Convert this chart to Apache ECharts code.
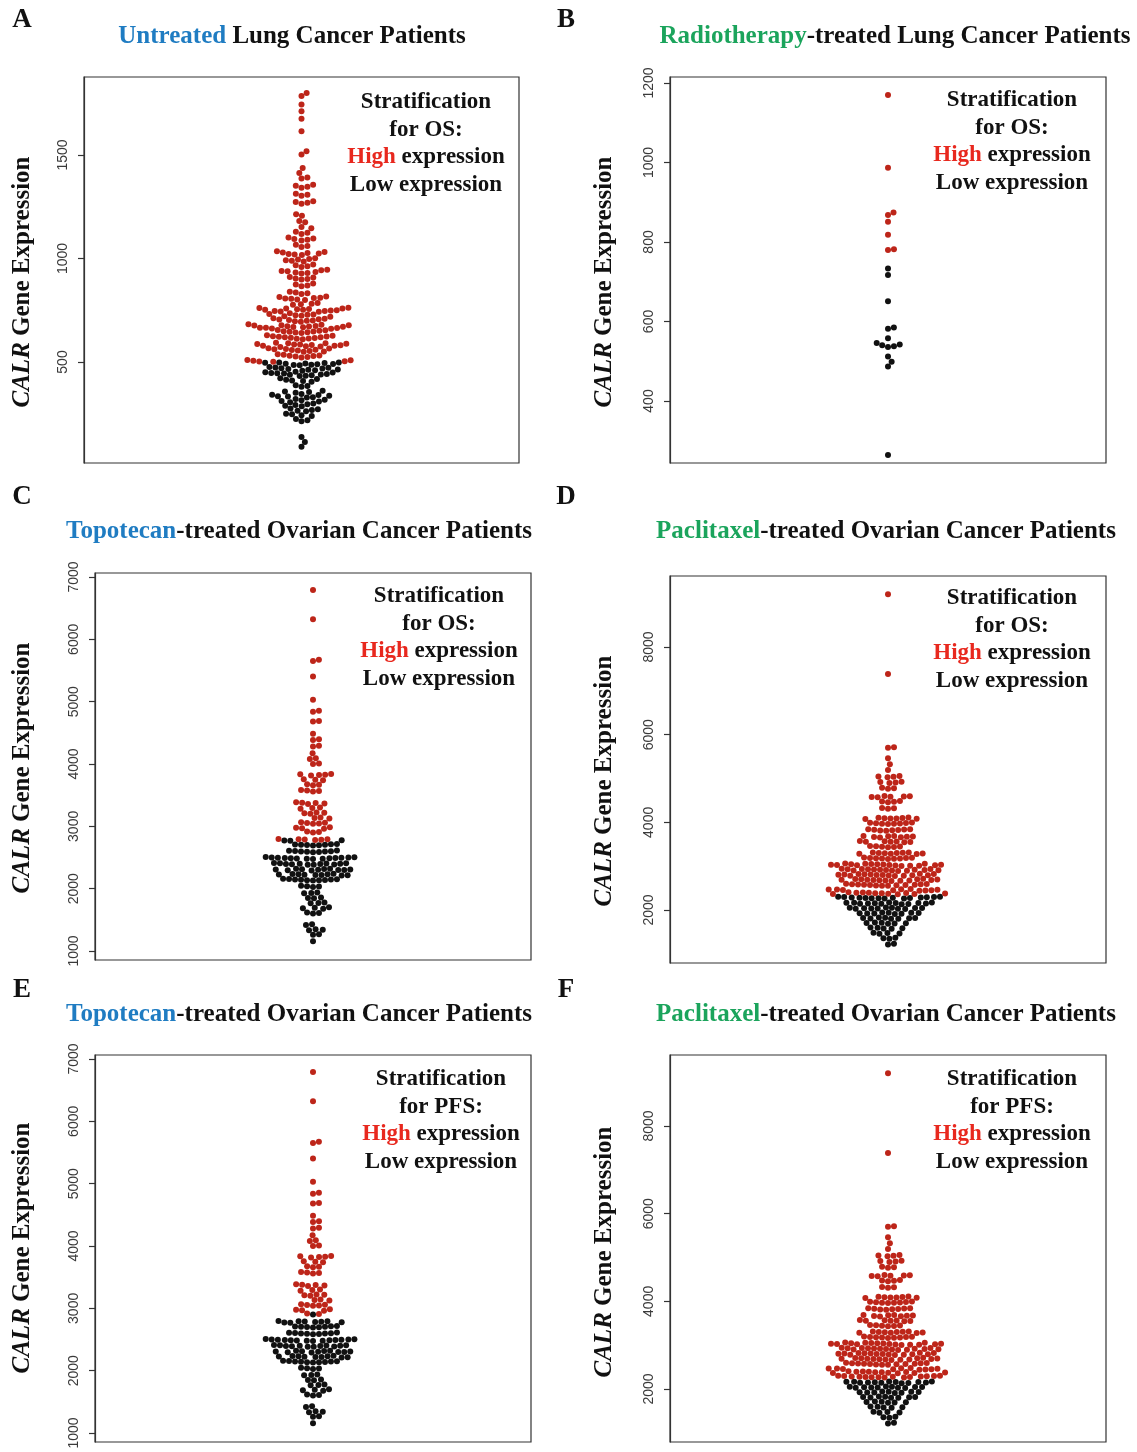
<!DOCTYPE html>
<html>
<head>
<meta charset="utf-8">
<script src="https://cdn.jsdelivr.net/npm/echarts@6/dist/echarts.min.js"></script>
<style>
  html, body { margin: 0; padding: 0; background: #fff; }
  #chart { width: 1137px; height: 1452px; }
</style>
</head>
<body>
<div id="chart"></div>
<script>
// values (CALR expression per patient)
const untreatedValues = [
  90, 114, 138,
  214, 219, 225, 239, 243, 247, 250,
  262, 265, 268, 272, 275, 286, 289, 292, 296, 299,
  306, 309, 312, 315, 318, 321, 328, 330, 333, 335, 337, 340, 342, 345,
  351, 355, 358, 361, 380, 384, 388,
  405, 408, 411, 414, 418, 421,
  432, 434, 436, 438, 440, 442, 444, 446, 447, 449, 451, 453,
  458, 460, 462, 464, 466, 468, 470, 472, 474, 476,
  484, 486, 487, 489, 490, 492, 493, 495, 496, 497, 498,
  501, 503, 504, 506, 508, 510,
  522, 524, 527, 529, 530, 532, 535, 537,
  549, 551, 553, 556, 558, 559, 561, 563, 565, 567,
  573, 575, 576, 578, 579, 581, 582, 584, 585, 587, 588, 590, 591, 593,
  610, 612, 614, 616, 617, 619, 620, 622, 623, 625, 627, 629,
  640, 642, 644, 646, 647, 649, 651, 653, 655,
  661, 662, 664, 665, 666, 668, 669, 670, 672, 673, 674, 676, 677, 678, 680, 682,
  695, 697, 699, 701, 703, 705, 707, 709, 711,
  719, 721, 724, 726, 728, 730, 732, 735,
  743, 744, 746, 747, 749, 750, 752, 753, 755, 756, 758, 759, 761, 762,
  776, 779, 782, 785,
  800, 802, 805, 807, 809, 811, 814, 816,
  828, 832, 836, 840,
  866, 870, 875, 879,
  898, 901, 904, 908, 911,
  928, 930, 933, 935, 938, 940, 943, 946,
  959, 963, 967, 971,
  986, 989, 992, 995, 998, 1001,
  1017, 1019, 1022, 1024, 1027, 1029, 1032, 1035,
  1056, 1061, 1066, 1087, 1091, 1094, 1097, 1101,
  1119, 1124, 1129, 1146, 1152, 1175, 1181, 1207, 1214,
  1265, 1269, 1273, 1277, 1303, 1308, 1313,
  1342, 1347, 1351, 1356, 1386, 1392, 1413, 1437,
  1502, 1518, 1615, 1675, 1711, 1744, 1785, 1800
];
const untreatedCut = 500;
const untreatedTicks = [500, 1000, 1500];

const radioValues = [
  264, 487, 499, 512, 536, 538, 540, 542, 546, 558, 582, 585,
  651, 717, 733, 780, 782, 818, 851, 868, 874, 987, 1170
];
const radioCut = 750;
const radioTicks = [400, 600, 800, 1000, 1200];

const topotecanValues = [
  1156, 1263, 1268, 1335, 1343, 1350, 1418, 1428,
  1603, 1611, 1619, 1680, 1688, 1695, 1703,
  1765, 1771, 1778, 1845, 1851, 1858, 1925, 1931, 1938,
  2028, 2035, 2040, 2046,
  2130, 2134, 2137, 2140, 2143, 2146, 2149, 2152, 2155, 2158,
  2212, 2215, 2218, 2221, 2224, 2227, 2230, 2233, 2236, 2239,
  2292, 2295, 2298, 2301, 2304, 2306, 2309, 2312, 2315, 2318, 2321,
  2382, 2385, 2388, 2391, 2394, 2396, 2398, 2401, 2404, 2407, 2410, 2413,
  2478, 2480, 2482, 2485, 2487, 2489, 2491, 2493, 2495, 2497, 2499, 2502, 2504, 2507,
  2585, 2589, 2592, 2595, 2598, 2601, 2604, 2607, 2611,
  2692, 2696, 2699, 2703, 2706, 2709, 2713, 2716,
  2768, 2771, 2775, 2782, 2785, 2788, 2791, 2794, 2797,
  2900, 2910, 2918, 2962, 2970, 2977, 2984,
  3040, 3047, 3053, 3059, 3066, 3124, 3133, 3142,
  3202, 3210, 3217, 3224, 3284, 3293, 3302,
  3360, 3367, 3373, 3379, 3386,
  3560, 3567, 3575, 3582, 3658, 3667, 3676, 3738, 3747, 3756,
  3815, 3822, 3828, 3834, 3840,
  4000, 4008, 4082, 4093, 4174, 4280, 4291, 4387, 4396, 4484,
  4680, 4691, 4840, 4856, 5029, 5402, 5654, 5671, 6322, 6792
];
const topotecanOsCut = 2780;
const topotecanPfsCut = 2905;
const topotecanTicks = [1000, 2000, 3000, 4000, 5000, 6000, 7000];

const paclitaxelValues = [
  1212, 1228, 1345, 1356, 1367, 1458, 1466, 1474, 1482,
  1572, 1579, 1586, 1593, 1600, 1685, 1691, 1697, 1703, 1709, 1715,
  1798, 1803, 1808, 1812, 1816, 1820, 1825, 1830,
  1910, 1914, 1919, 1923, 1927, 1931, 1935, 1940, 1945,
  2022, 2026, 2030, 2034, 2037, 2040, 2043, 2046, 2050, 2054, 2058,
  2134, 2138, 2141, 2145, 2148, 2151, 2154, 2157, 2160, 2163, 2167, 2170, 2174,
  2260, 2263, 2266, 2270, 2273, 2276, 2279, 2282, 2285, 2288, 2291, 2294, 2298, 2301, 2304,
  2360, 2364, 2368, 2372, 2376, 2380, 2384, 2388, 2392, 2396, 2400, 2404,
  2440, 2445, 2449, 2453, 2457, 2461, 2465, 2469, 2473, 2478,
  2552, 2556, 2560, 2564, 2568, 2572, 2575, 2578, 2582, 2586, 2590, 2594, 2598,
  2664, 2668, 2672, 2675, 2679, 2682, 2686, 2689, 2693, 2696, 2700, 2703, 2707, 2711,
  2776, 2780, 2784, 2788, 2791, 2795, 2798, 2801, 2805, 2808, 2812, 2815, 2819, 2822, 2826,
  2892, 2896, 2900, 2903, 2907, 2910, 2914, 2917, 2921, 2924, 2928, 2931, 2935, 2938, 2942,
  3005, 3009, 3012, 3016, 3019, 3023, 3026, 3029, 3032, 3035, 3039, 3042, 3046, 3049, 3053, 3056, 3060,
  3165, 3169, 3173, 3177, 3181, 3185, 3189, 3193, 3197,
  3278, 3282, 3286, 3290, 3294, 3298, 3302, 3306, 3310, 3314,
  3432, 3438, 3444, 3450, 3456, 3462,
  3545, 3550, 3555, 3560, 3565, 3570, 3575,
  3656, 3661, 3666, 3671, 3676, 3681, 3686, 3691,
  3810, 3815, 3820, 3825, 3830, 3835, 3840, 3845,
  3960, 3965, 3970, 3975, 3980, 3985, 3990, 3995,
  4075, 4080, 4085, 4090, 4095, 4100, 4105, 4110,
  4310, 4320, 4330, 4458, 4467, 4476, 4485,
  4570, 4577, 4583, 4589, 4595, 4601, 4767, 4777, 4787,
  4900, 4909, 4918, 4927, 5030, 5039, 5048, 5057,
  5195, 5325, 5462, 5702, 5712, 7384, 9202
];
const paclitaxelOsCut = 2330;
const paclitaxelPfsCut = 2200;
const paclitaxelTicks = [2000, 4000, 6000, 8000];

const panelLetters = ['A', 'B', 'C', 'D', 'E', 'F'];
const titleDrug = ['Untreated', 'Radiotherapy', 'Topotecan', 'Paclitaxel', 'Topotecan', 'Paclitaxel'];
const titleRest = [' Lung Cancer Patients', '-treated Lung Cancer Patients',
  '-treated Ovarian Cancer Patients', '-treated Ovarian Cancer Patients',
  '-treated Ovarian Cancer Patients', '-treated Ovarian Cancer Patients'];
const endpoints = ['OS', 'OS', 'OS', 'OS', 'PFS', 'PFS'];

// layout
const BLUE = '#1f7cc2', GREEN = '#1ba45c';
const SERIF = '"Liberation Serif", "Times New Roman", serif';
const GAP = 6, DOT = 6;
const panels = [
  { values: untreatedValues, cut: untreatedCut, ticks: untreatedTicks, min: 12, max: 1877,
    box: [84, 77, 435, 386], drugColor: BLUE, title: [292, 37], letter: [22, 20], legend: [426, 102], yName: [23, 282] },
  { values: radioValues, cut: radioCut, ticks: radioTicks, min: 244, max: 1215,
    box: [670, 77, 436, 386], drugColor: GREEN, title: [895, 37], letter: [566, 20], legend: [1012, 100], yName: [605, 282] },
  { values: topotecanValues, cut: topotecanOsCut, ticks: topotecanTicks, min: 856, max: 7064,
    box: [95, 573, 436, 387], drugColor: BLUE, title: [299, 532], letter: [22, 497], legend: [439, 596], yName: [23, 768] },
  { values: paclitaxelValues, cut: paclitaxelOsCut, ticks: paclitaxelTicks, min: 791, max: 9620,
    box: [670, 576, 436, 387], drugColor: GREEN, title: [886, 532], letter: [566, 497], legend: [1012, 598], yName: [605, 781] },
  { values: topotecanValues, cut: topotecanPfsCut, ticks: topotecanTicks, min: 856, max: 7064,
    box: [95, 1055, 436, 387], drugColor: BLUE, title: [299, 1015], letter: [22, 990], legend: [441, 1079], yName: [23, 1248] },
  { values: paclitaxelValues, cut: paclitaxelPfsCut, ticks: paclitaxelTicks, min: 791, max: 9620,
    box: [670, 1055, 436, 387], drugColor: GREEN, title: [886, 1015], letter: [566, 990], legend: [1012, 1079], yName: [605, 1252] }
];

// beeswarm: lowest value first, each point goes to the free spot nearest the centre line
function swarmOffsets(values, pxPerUnit, gap) {
  const order = values.map((v, i) => i).sort((a, b) => values[a] - values[b]);
  const placed = [];
  const xs = new Array(values.length).fill(0);
  order.forEach(i => {
    const y = values[i] * pxPerUnit;
    const near = placed.filter(p => Math.abs(p.y - y) < gap);
    const cands = [0];
    near.forEach(p => {
      const dx = Math.sqrt(gap * gap - (p.y - y) * (p.y - y));
      cands.push(p.x + dx, p.x - dx);
    });
    cands.sort((a, b) => Math.abs(a) - Math.abs(b));
    const x = cands.find(c => near.every(p => (p.x - c) ** 2 + (p.y - y) ** 2 >= gap * gap - 0.01));
    xs[i] = x;
    placed.push({ x, y });
  });
  return xs;
}

const grids = [], xAxes = [], yAxes = [], series = [], graphics = [];

function txt(x, y, text, rich, extra) {
  return Object.assign({
    type: 'text', x, y, silent: true,
    style: { text, rich, align: 'center', verticalAlign: 'middle', textAlign: 'center', textVerticalAlign: 'middle' }
  }, extra || {});
}
function font(size, color, extra) {
  return Object.assign({ fontFamily: SERIF, fontWeight: 'bold', fontSize: size, fill: color, color: color }, extra || {});
}

panels.forEach((p, i) => {
  const [left, top, width, height] = p.box;
  grids.push({ left, top, width, height, show: true, borderColor: '#333', borderWidth: 1.2, containLabel: false });
  xAxes.push({ gridIndex: i, type: 'value', min: -width / 2, max: width / 2, show: false });
  yAxes.push({
    gridIndex: i, type: 'value', position: 'left', min: p.min, max: p.max,
    axisLine: { show: true, onZero: false, lineStyle: { color: '#333', width: 1.2 } },
    axisTick: { show: true, length: 6, customValues: p.ticks, lineStyle: { color: '#333', width: 1.2 } },
    axisLabel: { customValues: p.ticks, rotate: 90, margin: 14, fontSize: 14,
      color: '#3a3a3a', fontFamily: '"Liberation Sans", Arial, sans-serif',
      formatter: v => String(v) },
    splitLine: { show: false }
  });

  const xs = swarmOffsets(p.values, height / (p.max - p.min), GAP);
  const low = [], high = [];
  p.values.forEach((v, k) => (v >= p.cut ? high : low).push([xs[k], v]));
  series.push({ type: 'scatter', xAxisIndex: i, yAxisIndex: i, data: low, symbolSize: DOT,
    itemStyle: { color: '#111', opacity: 1 }, silent: true });
  series.push({ type: 'scatter', xAxisIndex: i, yAxisIndex: i, data: high, symbolSize: DOT,
    itemStyle: { color: '#bd2519', opacity: 1 }, silent: true });

  graphics.push(txt(p.letter[0], p.letter[1], '{n|' + panelLetters[i] + '}', { n: font(27, '#111') }));
  graphics.push(txt(p.title[0], p.title[1], '{c|' + titleDrug[i] + '}{n|' + titleRest[i] + '}',
    { c: font(25, p.drugColor), n: font(25, '#111') }));
  graphics.push(txt(p.yName[0], p.yName[1], '{i|CALR}{n| Gene Expression}',
    { i: font(25, '#111', { fontStyle: 'italic' }), n: font(25, '#111') }, { rotation: Math.PI / 2 }));
  const lh = 27.6;
  const leg = txt(p.legend[0], p.legend[1] - lh / 2,
    '{n|Stratification}\n{n|for ' + endpoints[i] + ':}\n{r|High}{n| expression}\n{n|Low expression}',
    { n: font(23, '#111', { lineHeight: lh }), r: font(23, '#e8281e', { lineHeight: lh }) });
  leg.style.verticalAlign = 'top';
  leg.style.textVerticalAlign = 'top';
  graphics.push(leg);
});

const chart = echarts.init(document.getElementById('chart'), null, { renderer: 'canvas' });
chart.setOption({
  backgroundColor: '#fff',
  animation: false,
  grid: grids,
  xAxis: xAxes,
  yAxis: yAxes,
  series,
  graphic: { elements: graphics }
});
</script>
</body>
</html>
